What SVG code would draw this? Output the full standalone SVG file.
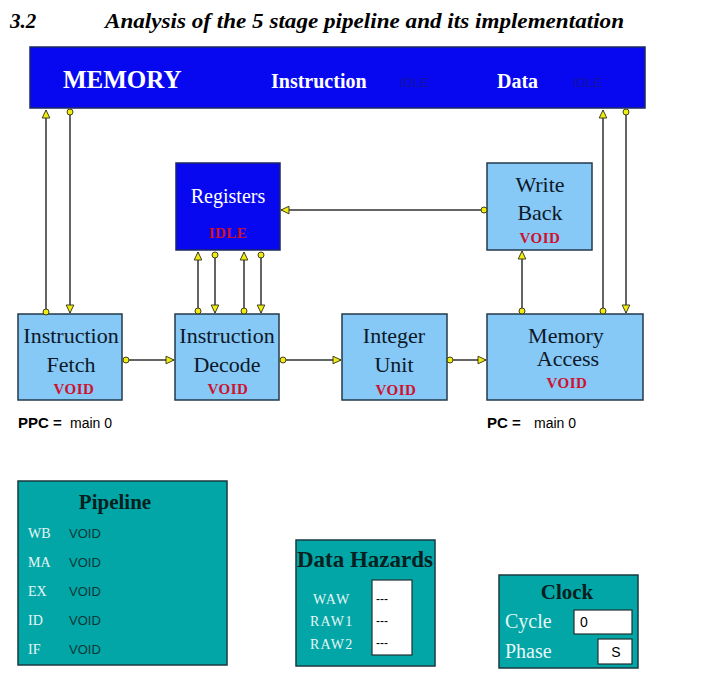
<svg xmlns="http://www.w3.org/2000/svg" width="717" height="678" viewBox="0 0 717 678">
<style>
.bg{fill:#ffffff}
.mem{fill:#0808f0;stroke:#1a2a60;stroke-width:1.5}
.stage{fill:#86c8f6;stroke:#24384a;stroke-width:1.5}
.teal{fill:#03a6a6;stroke:#1a3a40;stroke-width:1.5}
.field{fill:#ffffff;stroke:#203030;stroke-width:1.2}
.st{font-family:"Liberation Serif",serif;font-size:22px;fill:#0c1828;text-anchor:middle}
.void{font-family:"Liberation Serif",serif;font-size:15px;font-weight:bold;fill:#d0102c;text-anchor:middle;letter-spacing:0.5px}
.head{font-family:"Liberation Serif",serif;font-weight:bold;fill:#ffffff}
.idle{font-family:"Liberation Sans",sans-serif;font-size:13px;fill:#1212a4}
.lbl{font-family:"Liberation Sans",sans-serif;font-size:14px;fill:#000}
.ttl{font-family:"Liberation Serif",serif;font-weight:bold;fill:#062020;text-anchor:middle}
.pl{font-family:"Liberation Serif",serif;font-size:14px;fill:#e6f6f6}
.big{font-size:20px}
.sm{font-size:14px;letter-spacing:1.2px}
.pv{font-family:"Liberation Sans",sans-serif;font-size:13px;fill:#0a3838}
.dash{font-family:"Liberation Sans",sans-serif;font-size:12px;fill:#000}
.conn line{stroke:#303030;stroke-width:1.5;marker-start:url(#dot);marker-end:url(#tri)}
</style>
<defs>
<marker id="tri" markerUnits="userSpaceOnUse" markerWidth="12" markerHeight="12" viewBox="0 0 12 12" refX="10" refY="6" orient="auto">
<path d="M2,2.2 L10,6 L2,9.8 Z" fill="#f0ec10" stroke="#404020" stroke-width="1"/>
</marker>
<marker id="dot" markerUnits="userSpaceOnUse" markerWidth="10" markerHeight="10" viewBox="0 0 10 10" refX="5" refY="5" orient="auto">
<circle cx="5" cy="5" r="3" fill="#f0ec10" stroke="#404020" stroke-width="1"/>
</marker>
</defs>
<rect class="bg" x="0" y="0" width="717" height="678"/>
<g id="title">
<text x="10" y="28" font-family="Liberation Serif,serif" font-size="21" font-weight="bold" font-style="italic" fill="#000">3.2</text>
<text x="105" y="28" font-family="Liberation Serif,serif" font-size="21" font-weight="bold" font-style="italic" fill="#000" textLength="519" lengthAdjust="spacingAndGlyphs">Analysis of the 5 stage pipeline and its implementation</text>
</g>
<g id="memory">
<rect class="mem" x="30" y="47" width="615" height="61"/>
<text class="head" x="63" y="88" font-size="25">MEMORY</text>
<text class="head" x="271" y="88" font-size="20">Instruction</text>
<text class="idle" x="400" y="87">IDLE</text>
<text class="head" x="497" y="88" font-size="20">Data</text>
<text class="idle" x="573" y="87">IDLE</text>
</g>
<g id="registers">
<rect class="mem" x="176" y="163" width="104" height="87"/>
<text class="st" x="228" y="203" style="fill:#ffffff;font-size:20px">Registers</text>
<text class="void" x="228" y="238">IDLE</text>
</g>
<g id="write-back">
<rect class="stage" x="487" y="163" width="105" height="87"/>
<text class="st" x="540" y="192">Write</text>
<text class="st" x="540" y="220">Back</text>
<text class="void" x="540" y="243">VOID</text>
</g>
<g id="instruction-fetch">
<rect class="stage" x="18" y="314" width="104" height="86"/>
<text class="st" x="71" y="343">Instruction</text>
<text class="st" x="71" y="372">Fetch</text>
<text class="void" x="74" y="394">VOID</text>
</g>
<g id="instruction-decode">
<rect class="stage" x="175" y="314" width="104" height="86"/>
<text class="st" x="227" y="343">Instruction</text>
<text class="st" x="227" y="372">Decode</text>
<text class="void" x="228" y="394">VOID</text>
</g>
<g id="integer-unit">
<rect class="stage" x="342" y="314" width="105" height="86"/>
<text class="st" x="394" y="343">Integer</text>
<text class="st" x="394" y="372">Unit</text>
<text class="void" x="396" y="395">VOID</text>
</g>
<g id="memory-access">
<rect class="stage" x="487" y="314" width="156" height="86"/>
<text class="st" x="566" y="343">Memory</text>
<text class="st" x="568" y="366">Access</text>
<text class="void" x="567" y="388">VOID</text>
</g>
<g id="ppc">
<text class="lbl" x="18" y="428"><tspan font-weight="bold" style="font-size:15px">PPC =</tspan><tspan x="70">main 0</tspan></text>
</g>
<g id="pc">
<text class="lbl" x="487" y="428"><tspan font-weight="bold" style="font-size:15px">PC =</tspan><tspan x="534">main 0</tspan></text>
</g>
<g id="pipeline">
<rect class="teal" x="18" y="481" width="209" height="184"/>
<text class="ttl" x="115" y="509" font-size="21">Pipeline</text>
<text class="pl" x="28" y="538">WB</text><text class="pv" x="69" y="538">VOID</text>
<text class="pl" x="28" y="567">MA</text><text class="pv" x="69" y="567">VOID</text>
<text class="pl" x="28" y="596">EX</text><text class="pv" x="69" y="596">VOID</text>
<text class="pl" x="28" y="625">ID</text><text class="pv" x="69" y="625">VOID</text>
<text class="pl" x="28" y="654">IF</text><text class="pv" x="69" y="654">VOID</text>
</g>
<g id="data-hazards">
<rect class="teal" x="296" y="540" width="139" height="126"/>
<text class="ttl" x="365" y="567" font-size="23">Data Hazards</text>
<rect class="field" x="372" y="580" width="40" height="75"/>
<text class="pl sm" x="313" y="604">WAW</text>
<text class="pl sm" x="310" y="626">RAW1</text>
<text class="pl sm" x="310" y="649">RAW2</text>
<text class="dash" x="376" y="603">---</text>
<text class="dash" x="376" y="625">---</text>
<text class="dash" x="376" y="647">---</text>
</g>
<g id="clock">
<rect class="teal" x="499" y="575" width="139" height="93"/>
<text class="ttl" x="567" y="599" font-size="21">Clock</text>
<text class="pl big" x="505" y="628">Cycle</text>
<text class="pl big" x="505" y="658">Phase</text>
<rect class="field" x="574" y="610" width="58" height="24"/>
<text class="lbl" x="580" y="627">0</text>
<rect class="field" x="598" y="639" width="34" height="25"/>
<text class="lbl" x="616" y="657" text-anchor="middle">S</text>
</g>
<g id="connectors" class="conn">
<line x1="46" y1="312" x2="46" y2="110"/>
<line x1="70" y1="112" x2="70" y2="313"/>
<line x1="603" y1="311" x2="603" y2="110"/>
<line x1="626" y1="112" x2="626" y2="313"/>
<line x1="198" y1="311" x2="198" y2="252"/>
<line x1="215" y1="255" x2="215" y2="313"/>
<line x1="244" y1="311" x2="244" y2="252"/>
<line x1="261" y1="255" x2="261" y2="313"/>
<line x1="484" y1="210" x2="281" y2="210"/>
<line x1="522" y1="311" x2="522" y2="251"/>
<line x1="126" y1="360" x2="174" y2="360"/>
<line x1="283" y1="360" x2="341" y2="360"/>
<line x1="450" y1="360" x2="486" y2="360"/>
</g>
</svg>
